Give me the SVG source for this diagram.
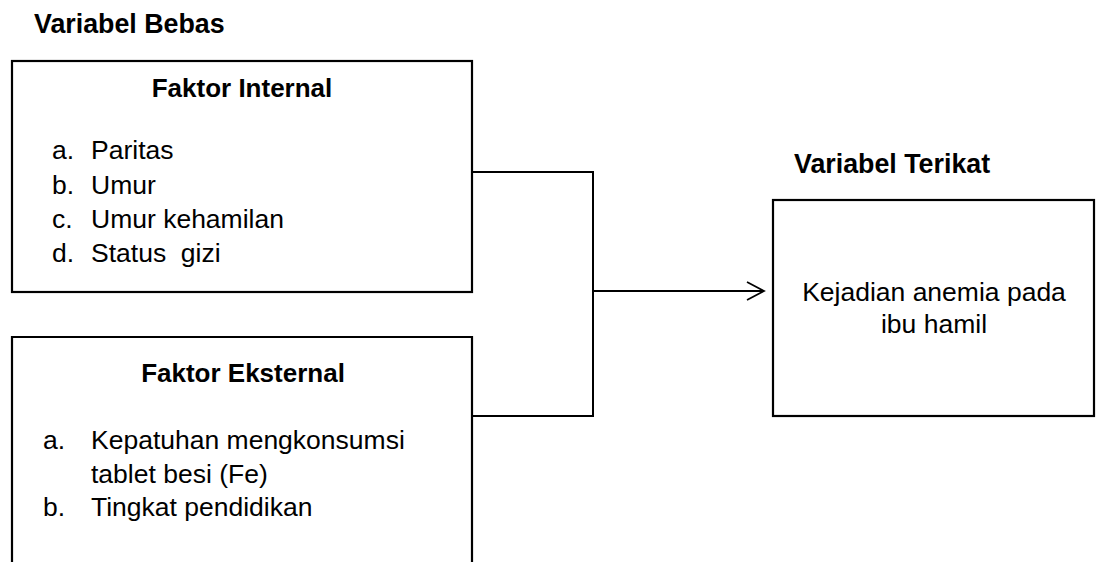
<svg xmlns="http://www.w3.org/2000/svg" width="1096" height="562" viewBox="0 0 1096 562">
<style>
text{font-family:"Liberation Sans",Arial,sans-serif;font-size:26.5px;fill:#000}
.b{font-weight:bold;font-size:26px}
.h{font-weight:bold;font-size:26.8px}
.c{text-anchor:middle}
.box{fill:#fff;stroke:#000;stroke-width:2.2}
.ln{fill:none;stroke:#000;stroke-width:2}
</style>
<defs>
<marker id="arr" viewBox="0 0 20 20" refX="18" refY="10" markerWidth="20" markerHeight="20" markerUnits="userSpaceOnUse" orient="auto">
<path d="M1,1 L18,10 L1,19" fill="none" stroke="#000" stroke-width="1.8"/>
</marker>
</defs>
<text class="h" x="34" y="33">Variabel Bebas</text>
<text class="h" x="794" y="173">Variabel Terikat</text>
<g id="internal">
<rect class="box" x="12" y="61" width="460" height="231"/>
<text class="b c" x="242" y="97">Faktor Internal</text>
<text x="52" y="159">a.</text><text x="91" y="159">Paritas</text>
<text x="52" y="194">b.</text><text x="91" y="194">Umur</text>
<text x="52" y="228">c.</text><text x="91" y="228">Umur kehamilan</text>
<text x="52" y="262">d.</text><text x="91" y="262" xml:space="preserve">Status  gizi</text>
</g>
<g id="eksternal">
<path class="box" d="M12,570 L12,337 L472,337 L472,570"/>
<text class="b c" x="243" y="382">Faktor Eksternal</text>
<text x="43" y="449">a.</text><text x="91" y="449">Kepatuhan mengkonsumsi</text>
<text x="91" y="483">tablet besi (Fe)</text>
<text x="43" y="516">b.</text><text x="91" y="516">Tingkat pendidikan</text>
</g>
<g id="terikat">
<rect class="box" x="773" y="200" width="321" height="216"/>
<text class="c" x="934" y="301">Kejadian anemia pada</text>
<text class="c" x="934" y="333">ibu hamil</text>
</g>
<g id="connectors">
<path class="ln" d="M472,172 L593,172 L593,416 L472,416"/>
<path class="ln" d="M593,291 L764,291" marker-end="url(#arr)"/>
</g>
</svg>
